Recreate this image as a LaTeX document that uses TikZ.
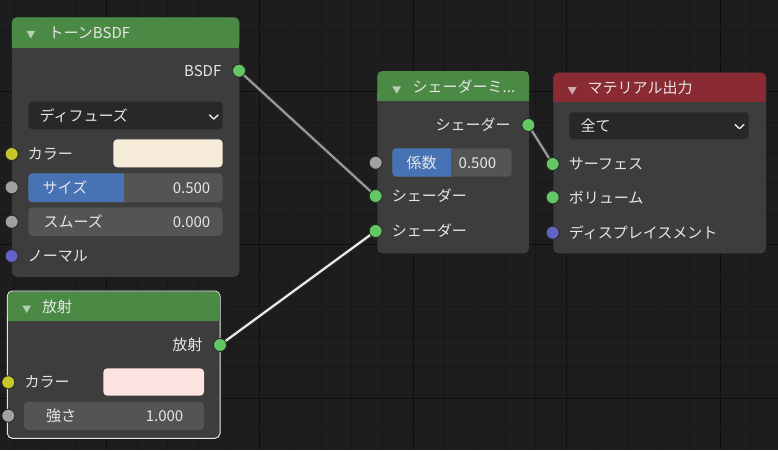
\documentclass[tikz,border=0pt]{standalone}
\usepackage{fontspec}
\setmainfont{Noto Sans CJK JP}
\usetikzlibrary{positioning, shapes.geometric}
\definecolor{gridBg}{HTML}{1D1D1D}
\definecolor{gridLine}{HTML}{171717}
\definecolor{gridBold}{HTML}{0F0F0F}
\definecolor{bodyGray}{HTML}{3D3D3D}
\definecolor{headerGreen}{HTML}{4B8A44}
\definecolor{headerRed}{HTML}{8A2A33}
\definecolor{menuDark}{HTML}{282828}
\definecolor{sliderGray}{HTML}{545454}
\definecolor{sliderBlue}{HTML}{4772B3}
\definecolor{uiText}{HTML}{E6E6E6}
\definecolor{sockGreen}{HTML}{63C763}
\definecolor{sockYellow}{HTML}{C7C729}
\definecolor{sockGray}{HTML}{A1A1A1}
\definecolor{sockPurple}{HTML}{6363C7}
\definecolor{toonColor}{HTML}{F6EAD8}
\definecolor{emitColor}{HTML}{FDE3DF}
\pgfdeclarelayer{grid}
\pgfdeclarelayer{wires}
\pgfsetlayers{grid,wires,main}

\begin{document}
\begin{tikzpicture}[x=1pt, y=-1pt, font=\fontsize{15}{18}\selectfont]
\tikzstyle{frameBody} = [rectangle, rounded corners=5pt, fill=bodyGray, anchor=north west, inner sep=0, outer sep=0]
\tikzstyle{collapseTri} = [regular polygon, regular polygon sides=3, shape border rotate=180, minimum size=10pt, inner sep=0, fill=white, fill opacity=0.6]
\tikzstyle{uiLabel} = [text=uiText, inner sep=0]
\tikzstyle{socket} = [circle, draw=black!85, line width=0.8pt, minimum size=13pt, inner sep=0, outer sep=0]
\tikzstyle{shaderSock} = [socket, fill=sockGreen]
\tikzstyle{colorSock} = [socket, fill=sockYellow]
\tikzstyle{floatSock} = [socket, fill=sockGray]
\tikzstyle{vectorSock} = [socket, fill=sockPurple]
\tikzstyle{menuChevron} = [draw=uiText, line width=1.4pt, line cap=round, line join=round]
\tikzstyle{linkBack} = [draw=black!85, line width=4.5pt]
\tikzstyle{linkGray} = [draw=black!40, line width=2.2pt]
\tikzstyle{linkWhite} = [draw=white!92!black, line width=2.2pt]

\useasboundingbox (0,0) rectangle (778,450);

% background grid
\begin{pgfonlayer}{grid}
\fill[gridBg] (0,0) rectangle (778,450);
\foreach \i in {0,...,25} \draw[gridLine, line width=1pt] ({14.6+30.67*\i},0) -- ++(0,450);
\foreach \j in {0,...,15} \draw[gridLine, line width=1pt] (0,{-0.67+30.67*\j}) -- ++(778,0);
\foreach \i in {3,8,...,23} \draw[gridBold, line width=1pt] ({14.6+30.67*\i},0) -- ++(0,450);
\foreach \j in {3,8,13} \draw[gridBold, line width=1pt] (0,{-0.67+30.67*\j}) -- ++(778,0);
\end{pgfonlayer}

% toon BSDF
\node (toonFrame) [frameBody, minimum width=227.5pt, minimum height=259.5pt] at (11.8,17.3) {};
\fill[headerGreen, rounded corners=5pt] (11.8,17.3) rectangle (239.3,47.7);
\fill[headerGreen] (11.8,40) rectangle (239.3,47.7);
\node (toonTri) [collapseTri] at (30.8,33.4) {};
\node (toonTitle) [uiLabel, anchor=west] at (48.5,33) {トーンBSDF};
\node (bsdfOut) [shaderSock] at (239,70.7) {};
\node (bsdfOutLbl) [uiLabel, left=11pt of bsdfOut] {BSDF};
\fill[menuDark, rounded corners=4pt] (28.3,101.7) rectangle (222.7,129.3);
\node (toonMenu) [uiLabel, anchor=west] at (39.5,115.5) {ディフューズ};
\draw[menuChevron] (209.5,115) -- (213.8,119) -- (218.1,115);
\node (toonColorSock) [colorSock] at (11.7,154) {};
\node (toonColorLbl) [uiLabel, right=9.5pt of toonColorSock] {カラー};
\fill[toonColor, rounded corners=4pt] (113.3,139.3) rectangle (222.7,167.3);
\node (toonSizeSock) [floatSock] at (11.7,187.3) {};
\fill[sliderGray, rounded corners=4pt] (28.3,173.3) rectangle (222.7,202.3);
\begin{scope}
\clip[rounded corners=4pt] (28.3,173.3) rectangle (222.7,202.3);
\fill[sliderBlue] (28.3,173.3) rectangle (124,202.3);
\end{scope}
\node (toonSizeLbl) [uiLabel, anchor=west] at (42.5,187.8) {サイズ};
\node (toonSizeVal) [uiLabel, anchor=east] at (210.5,187.8) {0.500};
\node (toonSmoothSock) [floatSock] at (11.7,221.7) {};
\fill[sliderGray, rounded corners=4pt] (28.3,207.3) rectangle (222.7,236);
\node (toonSmoothLbl) [uiLabel, anchor=west] at (43.5,221.7) {スムーズ};
\node (toonSmoothVal) [uiLabel, anchor=east] at (210.5,221.7) {0.000};
\node (toonNormalSock) [vectorSock] at (11.7,256) {};
\node (toonNormalLbl) [uiLabel, right=9.5pt of toonNormalSock] {ノーマル};

% emission
\node (emitFrame) [frameBody, draw=white!90!black, line width=1pt, minimum width=212.7pt, minimum height=147.3pt] at (7.3,291) {};
\fill[headerGreen, rounded corners=4.5pt] (7.8,291.5) rectangle (219.5,321);
\fill[headerGreen] (7.8,314) rectangle (219.5,321);
\node (emitTri) [collapseTri] at (26.7,308) {};
\node (emitTitle) [uiLabel, anchor=west] at (42,306.5) {放射};
\node (emitOut) [shaderSock] at (220,345) {};
\node (emitOutLbl) [uiLabel, left=11pt of emitOut] {放射};
\node (emitColorSock) [colorSock] at (8.3,382.3) {};
\node (emitColorLbl) [uiLabel, right=9.5pt of emitColorSock] {カラー};
\fill[emitColor, rounded corners=4pt] (103.3,368.3) rectangle (204,395.7);
\node (emitStrengthSock) [floatSock] at (8.3,415.7) {};
\fill[sliderGray, rounded corners=4pt] (24,401.7) rectangle (204,430);
\node (emitStrengthLbl) [uiLabel, anchor=west] at (46,415.8) {強さ};
\node (emitStrengthVal) [uiLabel, anchor=east] at (183.5,415.8) {1.000};

% mix shader
\node (mixFrame) [frameBody, minimum width=151.7pt, minimum height=182.3pt] at (377.3,71) {};
\fill[headerGreen, rounded corners=5pt] (377.3,71) rectangle (529,101);
\fill[headerGreen] (377.3,94) rectangle (529,101);
\node (mixTri) [collapseTri] at (396.7,88.8) {};
\node (mixTitle) [uiLabel, anchor=west] at (412.5,86.5) {シェーダーミ...};
\node (mixOut) [shaderSock] at (528.3,125) {};
\node (mixOutLbl) [uiLabel, left=11pt of mixOut] {シェーダー};
\node (mixFacSock) [floatSock] at (375.7,162.7) {};
\fill[sliderGray, rounded corners=4pt] (392.3,148.3) rectangle (511.7,176.7);
\begin{scope}
\clip[rounded corners=4pt] (392.3,148.3) rectangle (511.7,176.7);
\fill[sliderBlue] (392.3,148.3) rectangle (451,176.7);
\end{scope}
\node (mixFacLbl) [uiLabel] at (421.7,162.8) {係数};
\node (mixFacVal) [uiLabel, anchor=west] at (458.5,162.8) {0.500};
\node (mixIn1) [shaderSock] at (375.7,196) {};
\node (mixIn1Lbl) [uiLabel, right=9.5pt of mixIn1] {シェーダー};
\node (mixIn2) [shaderSock] at (375.7,231) {};
\node (mixIn2Lbl) [uiLabel, right=9.5pt of mixIn2] {シェーダー};

% material output
\node (outFrame) [frameBody, minimum width=212.7pt, minimum height=180.6pt] at (553.3,72.7) {};
\fill[headerRed, rounded corners=5pt] (553.3,72.7) rectangle (766,101.7);
\fill[headerRed] (553.3,95) rectangle (766,101.7);
\node (outTri) [collapseTri] at (572.2,89.7) {};
\node (outTitle) [uiLabel, anchor=west] at (587.5,87.5) {マテリアル出力};
\fill[menuDark, rounded corners=4pt] (569.3,112.3) rectangle (748.7,139.3);
\node (outMenu) [uiLabel, anchor=west] at (580.5,125.8) {全て};
\draw[menuChevron] (735.2,124.7) -- (739.5,128.7) -- (743.8,124.7);
\node (outSurface) [shaderSock] at (552.7,164) {};
\node (outSurfaceLbl) [uiLabel, right=9.5pt of outSurface] {サーフェス};
\node (outVolume) [shaderSock] at (552.7,197.3) {};
\node (outVolumeLbl) [uiLabel, right=9.5pt of outVolume] {ボリューム};
\node (outDisp) [vectorSock] at (552.7,232.7) {};
\node (outDispLbl) [uiLabel, right=9.5pt of outDisp] {ディスプレイスメント};

% links
\begin{pgfonlayer}{wires}
\draw[linkBack] (bsdfOut.center) -- (mixIn1.center);
\draw[linkGray] (bsdfOut.center) -- (mixIn1.center);
\draw[linkBack] (emitOut.center) -- (mixIn2.center);
\draw[linkWhite] (emitOut.center) -- (mixIn2.center);
\draw[linkBack] (mixOut.center) -- (outSurface.center);
\draw[linkGray] (mixOut.center) -- (outSurface.center);
\end{pgfonlayer}

\end{tikzpicture}
\end{document}
